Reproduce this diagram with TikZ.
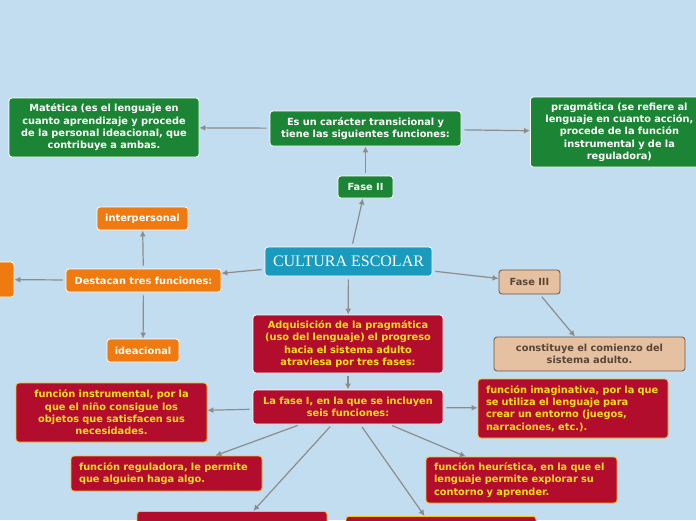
\documentclass[tikz,border=0pt]{standalone}
\usepackage{fontspec}
\setmainfont{DejaVu Sans}
\newfontfamily\cultfont{Liberation Serif}
\usetikzlibrary{arrows.meta}
\definecolor{bgc}{HTML}{C3DDF0}
\definecolor{gfill}{HTML}{1C8535}
\definecolor{ofill}{HTML}{EF7B10}
\definecolor{rfill}{HTML}{B20D2D}
\definecolor{rbord}{HTML}{F2C21C}
\definecolor{rtext}{HTML}{FFE01A}
\definecolor{tfill}{HTML}{E5C1A1}
\definecolor{tbord}{HTML}{6B5545}
\definecolor{ttext}{HTML}{5A4535}
\definecolor{cfill}{HTML}{1A9ABD}
\definecolor{conncol}{HTML}{8C8C8C}
\tikzset{
  box/.style={rounded corners=3pt, line width=0.8pt, align=center,
    font=\bfseries\fontsize{9.8}{12.3}\selectfont, inner xsep=5pt, inner ysep=2pt},
  greenbox/.style={box, fill=gfill, draw=white, text=white},
  orangebox/.style={box, fill=ofill, draw=white, text=white},
  redbox/.style={box, fill=rfill, draw=rbord, text=rtext},
  redboxw/.style={box, fill=rfill, draw=white, text=rtext},
  tanbox/.style={box, fill=tfill, draw=tbord, text=ttext},
  tealbox/.style={box, fill=cfill, draw=white, text=white, font=\cultfont\fontsize{16}{18}\selectfont},
  conn/.style={draw=conncol, line width=1.2pt, shorten <=3pt, -{Latex[length=6pt,width=6pt]}}
}
\begin{document}
\begin{tikzpicture}[x=1pt,y=-1pt]
\useasboundingbox (0,0) rectangle (696,520);
\clip (0,0) rectangle (696,520);
\fill[bgc] (0,0) rectangle (696,520);

\node[tealbox, minimum width=167pt, minimum height=29pt] (cult) at (348.5,261.5) {CULTURA ESCOLAR};

\node[greenbox, minimum width=55pt, minimum height=22pt] (fase2) at (365.5,187) {Fase II};
\node[greenbox, text width=181pt, minimum height=35pt] (esun) at (365.5,128.5) {Es un carácter transicional y\\tiene las siguientes funciones:};
\node[greenbox, text width=180pt, minimum height=59pt] (mat) at (104,127.5) {Matética (es el lenguaje en\\cuanto aprendizaje y procede\\de la personal ideacional, que\\contribuye a ambas.};
\node[greenbox, text width=168pt, minimum height=70pt, anchor=west] (prag) at (530,132) {pragmática (se refiere al\\lenguaje en cuanto acción,\\procede de la función\\instrumental y de la\\reguladora)};

\node[orangebox, minimum width=155pt, minimum height=23pt] (dest) at (143.5,280.5) {Destacan tres funciones:};
\node[orangebox, minimum width=91pt, minimum height=23pt] (inter) at (142.5,218.5) {interpersonal};
\node[orangebox, minimum width=72pt, minimum height=23pt] (idea) at (143,350.5) {ideacional};
\node[orangebox, minimum width=40pt, minimum height=35pt] (left) at (-6,279.5) {};

\node[tanbox, minimum width=61pt, minimum height=24pt] (fase3) at (529.5,282) {Fase III};
\node[tanbox, text width=181pt, minimum height=34pt] (const) at (589.5,354) {constituye el comienzo del\\sistema adulto.};

\node[redboxw, text width=180pt, minimum height=58pt] (adq) at (348,344) {Adquisición de la pragmática\\(uso del lenguaje) el progreso\\hacia el sistema adulto\\atraviesa por tres fases:};
\node[redboxw, text width=180pt, minimum height=34pt] (fase1) at (348,407) {La fase I, en la que se incluyen\\seis funciones:};

\node[redbox, text width=181pt, minimum height=59pt] (instr) at (111.5,412.5) {función instrumental, por la\\que el niño consigue los\\objetos que satisfacen sus\\necesidades.};
\node[redbox, text width=175pt, inner xsep=8pt, align=left, minimum height=35pt] (regul) at (166.5,473.5) {función reguladora, le permite\\que alguien haga algo.};
\node[redbox, text width=174pt, inner xsep=8pt, align=left, minimum height=59pt] (imag) at (573,408.5) {función imaginativa, por la que\\se utiliza el lenguaje para\\crear un entorno (juegos,\\narraciones, etc.).};
\node[redbox, text width=175pt, inner xsep=8pt, align=left, minimum height=46pt] (heur) at (521.5,480) {función heurística, en la que el\\lenguaje permite explorar su\\contorno y aprender.};
\node[redbox, text width=174pt, inner xsep=8pt, inner ysep=4pt, align=left, minimum height=46pt, anchor=north] (bl) at (232,511) {función interaccional, por la};
\node[redbox, minimum width=190pt, minimum height=46pt, anchor=north] (bm) at (441,516) {};

\draw[conn] (cult) -- (fase2);
\draw[conn] (fase2) -- (esun);
\draw[conn] (esun) -- (mat);
\draw[conn] (esun) -- (prag);
\draw[conn] (cult) -- (dest);
\draw[conn] (dest) -- (inter);
\draw[conn] (dest) -- (idea);
\draw[conn] (dest) -- (left);
\draw[conn] (cult) -- (fase3);
\draw[conn] (fase3) -- (const);
\draw[conn] (cult) -- (adq);
\draw[conn] (adq) -- (fase1);
\draw[conn] (fase1) -- (instr);
\draw[conn] (fase1) -- (regul);
\draw[conn] (fase1) -- (bl);
\draw[conn] (fase1) -- (bm);
\draw[conn] (fase1) -- (heur);
\draw[conn] (fase1) -- (imag);
\end{tikzpicture}
\end{document}
